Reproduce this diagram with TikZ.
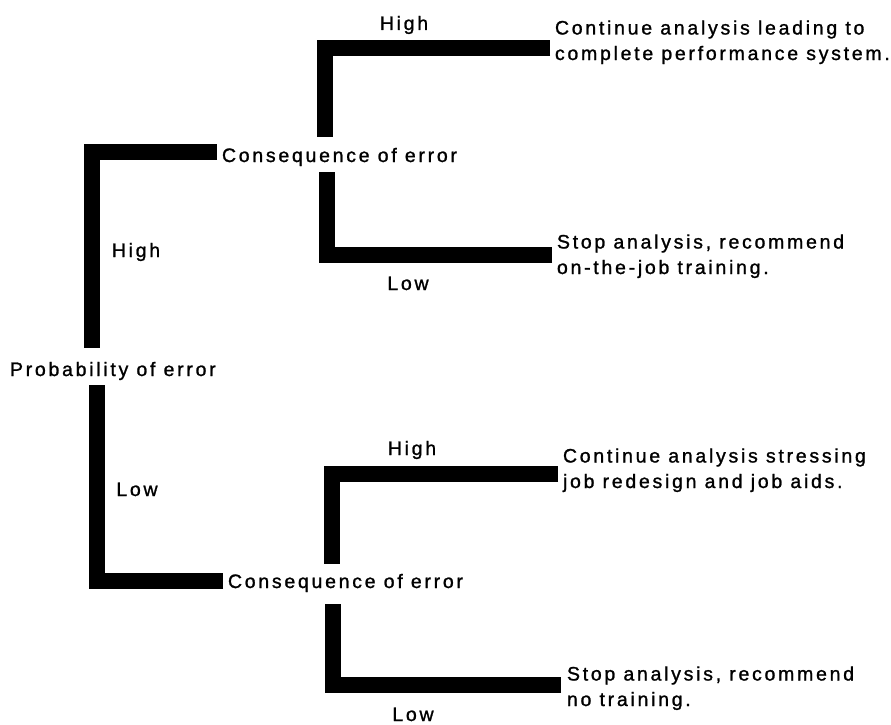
\documentclass[tikz,border=0pt]{standalone}
\usepackage{fontspec}
\setmainfont{Liberation Sans}[LetterSpace=14,FakeBold=1.2]
\begin{document}
\begin{tikzpicture}[x=1pt,y=-1pt,
  bar/.style={line width=16pt,line cap=butt,line join=miter},
  txt/.style={inner sep=0pt,outer sep=0pt,anchor=base west,align=left,font=\fontsize{19.5}{25.5}\selectfont},
  lbl/.style={inner sep=0pt,outer sep=0pt,anchor=base,font=\fontsize{19.5}{25.5}\selectfont}]
\useasboundingbox (0,0) rectangle (891,725);
% text nodes (multi-line nodes: base = baseline of last line)
\node[txt] (prob) at (10,376) {Probability of error};
\node[txt] (c1) at (222,162) {Consequence of error};
\node[txt] (c2) at (228,588) {Consequence of error};
\node[txt] (o1) at (555,60) {Continue analysis leading to\\complete performance system.};
\node[txt] (o2) at (557,274) {Stop analysis, recommend\\on-the-job training.};
\node[txt] (o3) at (563,488) {Continue analysis stressing\\job redesign and job aids.};
\node[txt] (o4) at (567,706) {Stop analysis, recommend\\no training.};
% labels
\node[lbl] (l1) at (404,30) {High};
\node[lbl] (l2) at (408,290) {Low};
\node[lbl] (l3) at (136,257) {High};
\node[lbl] (l4) at (137,496) {Low};
\node[lbl] (l5) at (412,455) {High};
\node[lbl] (l6) at (413,721) {Low};
% corners
\coordinate (kA) at (92,152);
\coordinate (kB) at (97,581);
\coordinate (kC) at (325,48);
\coordinate (kD) at (327,255);
\coordinate (kE) at (332,474);
\coordinate (kF) at (333,685);
% connectors
\draw[bar] ([xshift=-5pt]c1.west |- kA) -- (kA) -- ++(0,196);
\draw[bar] ([xshift=-5pt]c2.west |- kB) -- (kB) -- ++(0,-196);
\draw[bar] ([xshift=-5pt]o1.west |- kC) -- (kC) -- ++(0,89);
\draw[bar] ([xshift=-5pt]o2.west |- kD) -- (kD) -- ++(0,-83);
\draw[bar] ([xshift=-5pt]o3.west |- kE) -- (kE) -- ++(0,90);
\draw[bar] ([xshift=-6pt]o4.west |- kF) -- (kF) -- ++(0,-81);
\end{tikzpicture}
\end{document}
